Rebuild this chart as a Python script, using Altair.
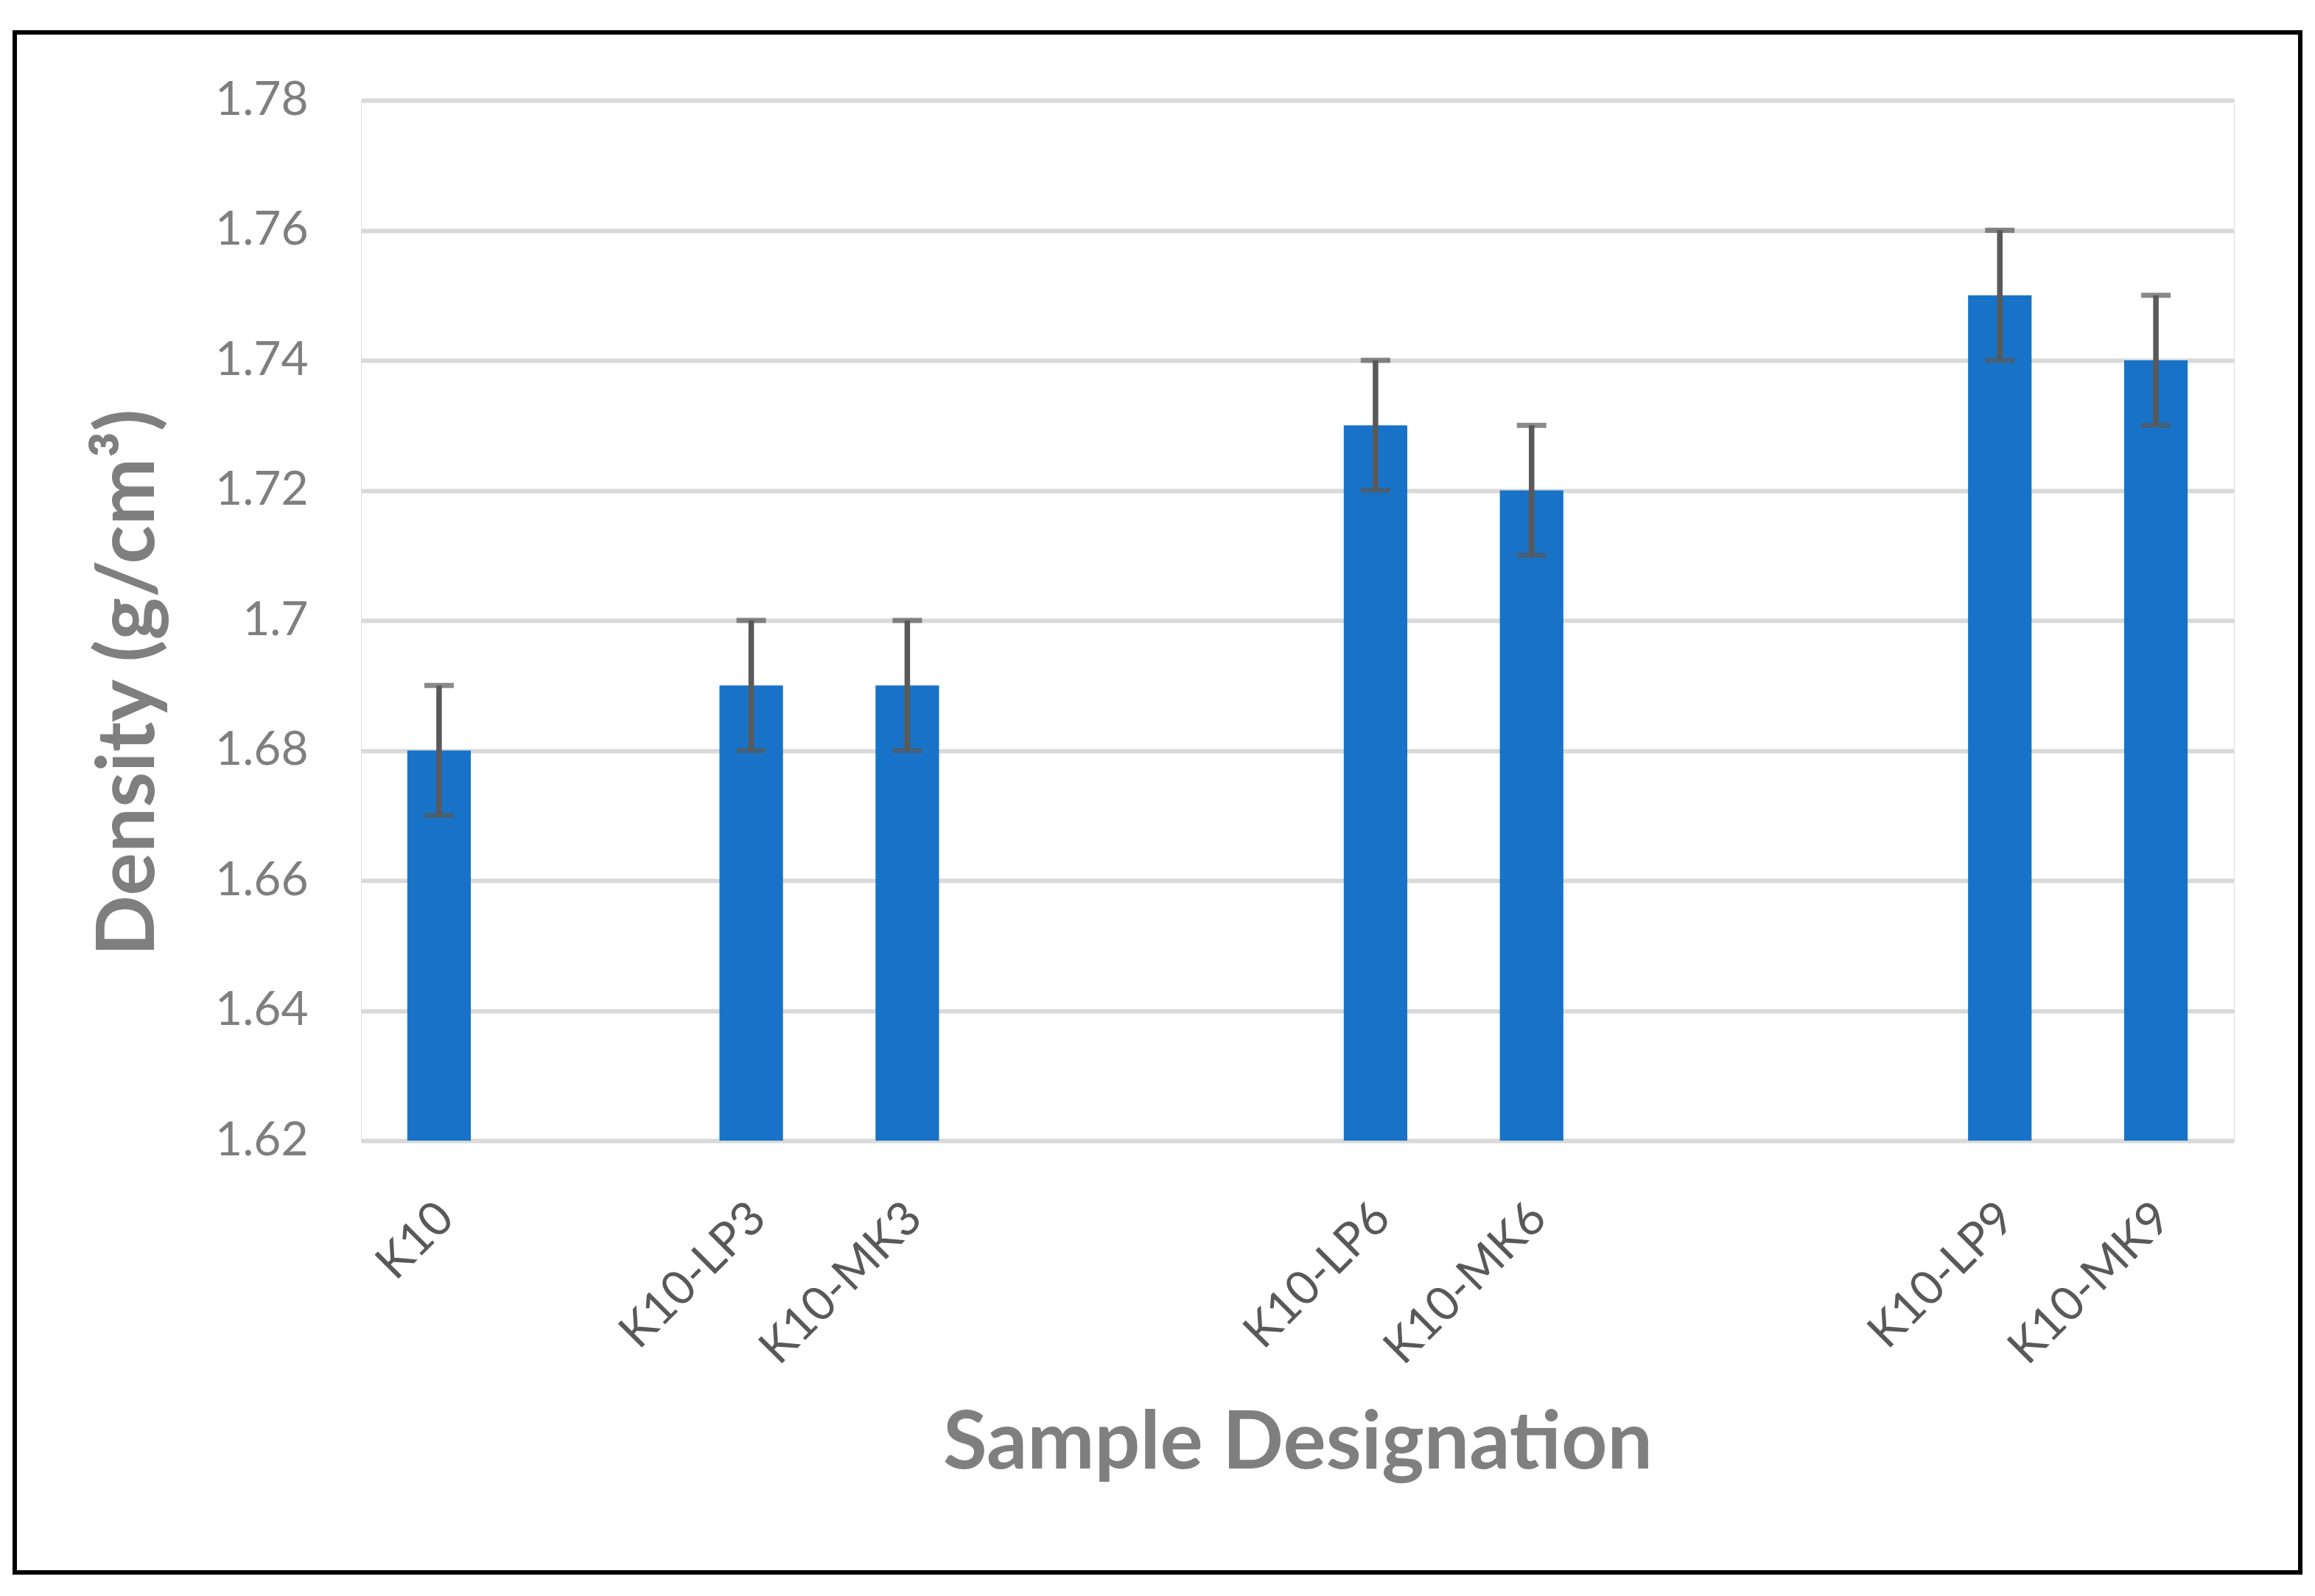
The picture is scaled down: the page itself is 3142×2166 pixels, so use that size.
import altair as alt
import pandas as pd

# ---- data ----
categories = ["K10", "K10-LP3", "K10-MK3", "K10-LP6", "K10-MK6", "K10-LP9", "K10-MK9"]
density = [1.68, 1.69, 1.69, 1.73, 1.72, 1.75, 1.74]
error = [0.01, 0.01, 0.01, 0.01, 0.01, 0.01, 0.01]
# category slots on the axis (empty slots keep the gaps between groups)
slots = ["K10", "_gap1", "K10-LP3", "K10-MK3", "_gap2", "_gap3",
         "K10-LP6", "K10-MK6", "_gap4", "_gap5", "K10-LP9", "K10-MK9"]
y_ticks = [1.62, 1.64, 1.66, 1.68, 1.70, 1.72, 1.74, 1.76, 1.78]

df = pd.DataFrame({"sample": categories, "density": density, "err": error})
df["lo"] = df["density"] - df["err"]
df["hi"] = df["density"] + df["err"]

W, H = 2542, 1412
FONT = "Lato"
BAR = "#1873C8"
ERR = "#595959"

xscale = alt.Scale(domain=slots, paddingInner=0.593, paddingOuter=0.2965)
yscale = alt.Scale(domain=[1.62, 1.78], zero=False, nice=False)

x_axis = alt.Axis(
    title="Sample Designation",
    labelExpr="indexof(datum.label, '_gap') == 0 ? '' : datum.label",
    labelAngle=-45, labelAlign="right", labelBaseline="middle",
    labelPadding=95, labelOffset=10, labelFontSize=64, labelColor="#595959", labelFont=FONT,
    labelOverlap=False, labelBound=False, labelFlush=False, labelLimit=0,
    ticks=False, tickSize=0, domain=False, grid=False,
    titleFont=FONT, titleFontSize=109, titleFontWeight="bold", titleColor="#7F7F7F",
    titleX=W / 2, titleY=444, titleAlign="center", titleBaseline="alphabetic",
)
y_axis = alt.Axis(
    title="Density (g/cm³)",
    values=y_ticks, format=".2~f",
    labelFontSize=64, labelColor="#7F7F7F", labelFont=FONT, labelPadding=72,
    labelBaseline="middle", labelLimit=0,
    ticks=False, tickSize=0, domain=False,
    grid=True, gridColor="#D9D9D9", gridWidth=6,
    titleFont=FONT, titleFontSize=109, titleFontWeight="bold", titleColor="#7F7F7F",
    titleAngle=270, titleX=-282, titleY=790, titleAlign="center", titleBaseline="alphabetic",
)

base = alt.Chart(df)

bars = base.mark_bar(color=BAR).encode(
    x=alt.X("sample:N", scale=xscale, axis=x_axis),
    y=alt.Y("density:Q", scale=yscale, axis=y_axis),
    y2=alt.datum(1.62),
)

rules = base.mark_rule(color=ERR, strokeWidth=7.5).encode(
    x=alt.X("sample:N", scale=xscale),
    y=alt.Y("lo:Q", scale=yscale),
    y2="hi:Q",
)

cap_lo = base.mark_tick(color=ERR, thickness=7, size=40, orient="horizontal").encode(
    x=alt.X("sample:N", scale=xscale),
    y=alt.Y("lo:Q", scale=yscale),
)
cap_hi = base.mark_tick(color=ERR, thickness=7, size=40, orient="horizontal").encode(
    x=alt.X("sample:N", scale=xscale),
    y=alt.Y("hi:Q", scale=yscale),
)

frame = alt.Chart(pd.DataFrame({"f": [0]})).mark_rect(
    fillOpacity=0, stroke="black", strokeWidth=6
).encode(
    x=alt.value(-470), x2=alt.value(2632), y=alt.value(-92), y2=alt.value(1998)
)

chart = alt.layer(bars, rules, cap_lo, cap_hi, frame).properties(
    width=W, height=H,
    padding={"left": 9, "top": 33, "right": 5, "bottom": 5},
    background="white",
).configure_view(stroke=None).configure(font=FONT)

chart.save("out.html", embed_options={"renderer": "svg", "actions": False})
